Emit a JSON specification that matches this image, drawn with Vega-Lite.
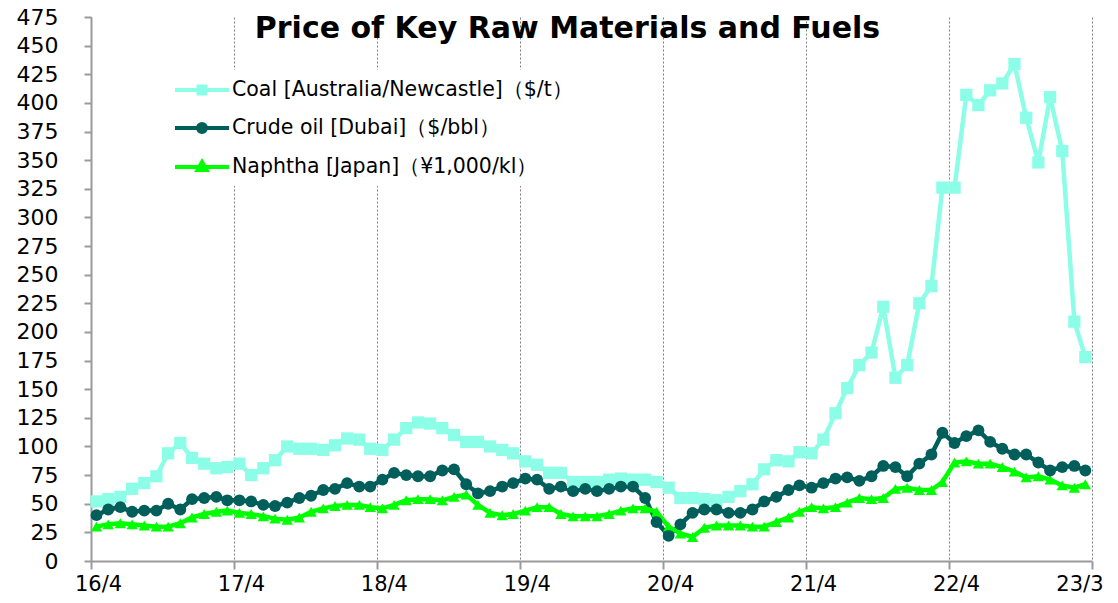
{
  "$schema": "https://vega.github.io/schema/vega-lite/v6.json",
  "width": 1001,
  "height": 544,
  "autosize": "none",
  "padding": {"left": 91, "top": 17, "right": 26, "bottom": 42},
  "background": "white",
  "title": {"text": "Price of Key Raw Materials and Fuels", "font": "DejaVu Sans", "fontSize": 30, "fontWeight": "bold", "color": "black", "anchor": "middle", "frame": "group", "offset": -21, "baseline": "alphabetic", "dx": -24, "dy": 41},
  "data": {"values": [
    {"d": "2016-04-15", "coal": 52, "crude": 40, "naphtha": 30},
    {"d": "2016-05-15", "coal": 54, "crude": 45, "naphtha": 32},
    {"d": "2016-06-15", "coal": 56, "crude": 47, "naphtha": 33},
    {"d": "2016-07-15", "coal": 63, "crude": 43, "naphtha": 32},
    {"d": "2016-08-15", "coal": 68, "crude": 44, "naphtha": 31},
    {"d": "2016-09-15", "coal": 74, "crude": 44, "naphtha": 30},
    {"d": "2016-10-15", "coal": 94, "crude": 50, "naphtha": 30},
    {"d": "2016-11-15", "coal": 103, "crude": 45, "naphtha": 33},
    {"d": "2016-12-15", "coal": 90, "crude": 54, "naphtha": 38},
    {"d": "2017-01-15", "coal": 85, "crude": 55, "naphtha": 41},
    {"d": "2017-02-15", "coal": 81, "crude": 56, "naphtha": 43},
    {"d": "2017-03-15", "coal": 82, "crude": 53, "naphtha": 44},
    {"d": "2017-04-15", "coal": 85, "crude": 53, "naphtha": 42},
    {"d": "2017-05-15", "coal": 75, "crude": 52, "naphtha": 41},
    {"d": "2017-06-15", "coal": 81, "crude": 49, "naphtha": 39},
    {"d": "2017-07-15", "coal": 88, "crude": 48, "naphtha": 37},
    {"d": "2017-08-15", "coal": 100, "crude": 51, "naphtha": 36},
    {"d": "2017-09-15", "coal": 98, "crude": 55, "naphtha": 38},
    {"d": "2017-10-15", "coal": 98, "crude": 57, "naphtha": 43},
    {"d": "2017-11-15", "coal": 97, "crude": 62, "naphtha": 46},
    {"d": "2017-12-15", "coal": 101, "crude": 63, "naphtha": 48},
    {"d": "2018-01-15", "coal": 107, "crude": 68, "naphtha": 49},
    {"d": "2018-02-15", "coal": 106, "crude": 65, "naphtha": 49},
    {"d": "2018-03-15", "coal": 98, "crude": 65, "naphtha": 47},
    {"d": "2018-04-15", "coal": 97, "crude": 71, "naphtha": 46},
    {"d": "2018-05-15", "coal": 106, "crude": 77, "naphtha": 49},
    {"d": "2018-06-15", "coal": 116, "crude": 75, "naphtha": 53},
    {"d": "2018-07-15", "coal": 121, "crude": 74, "naphtha": 54},
    {"d": "2018-08-15", "coal": 120, "crude": 74, "naphtha": 54},
    {"d": "2018-09-15", "coal": 116, "crude": 79, "naphtha": 53},
    {"d": "2018-10-15", "coal": 110, "crude": 80, "naphtha": 56},
    {"d": "2018-11-15", "coal": 104, "crude": 67, "naphtha": 58},
    {"d": "2018-12-15", "coal": 104, "crude": 59, "naphtha": 49},
    {"d": "2019-01-15", "coal": 100, "crude": 61, "naphtha": 42},
    {"d": "2019-02-15", "coal": 97, "crude": 65, "naphtha": 40},
    {"d": "2019-03-15", "coal": 94, "crude": 68, "naphtha": 41},
    {"d": "2019-04-15", "coal": 87, "crude": 72, "naphtha": 44},
    {"d": "2019-05-15", "coal": 84, "crude": 71, "naphtha": 47},
    {"d": "2019-06-15", "coal": 77, "crude": 63, "naphtha": 47},
    {"d": "2019-07-15", "coal": 77, "crude": 65, "naphtha": 41},
    {"d": "2019-08-15", "coal": 69, "crude": 61, "naphtha": 39},
    {"d": "2019-09-15", "coal": 69, "crude": 63, "naphtha": 39},
    {"d": "2019-10-15", "coal": 69, "crude": 61, "naphtha": 39},
    {"d": "2019-11-15", "coal": 71, "crude": 63, "naphtha": 41},
    {"d": "2019-12-15", "coal": 72, "crude": 65, "naphtha": 44},
    {"d": "2020-01-15", "coal": 71, "crude": 65, "naphtha": 46},
    {"d": "2020-02-15", "coal": 71, "crude": 55, "naphtha": 46},
    {"d": "2020-03-15", "coal": 69, "crude": 34, "naphtha": 43},
    {"d": "2020-04-15", "coal": 64, "crude": 22, "naphtha": 30},
    {"d": "2020-05-15", "coal": 55, "crude": 32, "naphtha": 24},
    {"d": "2020-06-15", "coal": 55, "crude": 42, "naphtha": 21},
    {"d": "2020-07-15", "coal": 54, "crude": 45, "naphtha": 29},
    {"d": "2020-08-15", "coal": 53, "crude": 45, "naphtha": 31},
    {"d": "2020-09-15", "coal": 56, "crude": 42, "naphtha": 31},
    {"d": "2020-10-15", "coal": 61, "crude": 42, "naphtha": 31},
    {"d": "2020-11-15", "coal": 67, "crude": 45, "naphtha": 30},
    {"d": "2020-12-15", "coal": 80, "crude": 52, "naphtha": 30},
    {"d": "2021-01-15", "coal": 88, "crude": 56, "naphtha": 34},
    {"d": "2021-02-15", "coal": 87, "crude": 62, "naphtha": 38},
    {"d": "2021-03-15", "coal": 95, "crude": 66, "naphtha": 43},
    {"d": "2021-04-15", "coal": 94, "crude": 64, "naphtha": 47},
    {"d": "2021-05-15", "coal": 106, "crude": 68, "naphtha": 46},
    {"d": "2021-06-15", "coal": 129, "crude": 72, "naphtha": 47},
    {"d": "2021-07-15", "coal": 151, "crude": 73, "naphtha": 51},
    {"d": "2021-08-15", "coal": 171, "crude": 70, "naphtha": 55},
    {"d": "2021-09-15", "coal": 182, "crude": 74, "naphtha": 54},
    {"d": "2021-10-15", "coal": 222, "crude": 83, "naphtha": 55},
    {"d": "2021-11-15", "coal": 160, "crude": 82, "naphtha": 63},
    {"d": "2021-12-15", "coal": 171, "crude": 74, "naphtha": 64},
    {"d": "2022-01-15", "coal": 225, "crude": 85, "naphtha": 62},
    {"d": "2022-02-15", "coal": 240, "crude": 93, "naphtha": 62},
    {"d": "2022-03-15", "coal": 326, "crude": 112, "naphtha": 69},
    {"d": "2022-04-15", "coal": 326, "crude": 103, "naphtha": 86},
    {"d": "2022-05-15", "coal": 407, "crude": 109, "naphtha": 87},
    {"d": "2022-06-15", "coal": 398, "crude": 114, "naphtha": 85},
    {"d": "2022-07-15", "coal": 411, "crude": 104, "naphtha": 85},
    {"d": "2022-08-15", "coal": 417, "crude": 98, "naphtha": 82},
    {"d": "2022-09-15", "coal": 434, "crude": 93, "naphtha": 78},
    {"d": "2022-10-15", "coal": 387, "crude": 93, "naphtha": 73},
    {"d": "2022-11-15", "coal": 348, "crude": 86, "naphtha": 74},
    {"d": "2022-12-15", "coal": 405, "crude": 79, "naphtha": 71},
    {"d": "2023-01-15", "coal": 358, "crude": 82, "naphtha": 66},
    {"d": "2023-02-15", "coal": 209, "crude": 83, "naphtha": 64},
    {"d": "2023-03-15", "coal": 178, "crude": 79, "naphtha": 67}
  ]},
  "transform": [{"fold": ["coal", "crude", "naphtha"], "as": ["series", "value"]}],
  "encoding": {
    "x": {
      "field": "d", "type": "temporal",
      "scale": {"type": "utc", "domain": [{"year": 2016, "month": 4, "date": 1, "utc": true}, {"year": 2023, "month": 4, "date": 1, "utc": true}]},
      "axis": {
        "title": null,
        "values": [
          {"year": 2016, "month": 4, "date": 1, "utc": true},
          {"year": 2017, "month": 4, "date": 1, "utc": true},
          {"year": 2018, "month": 4, "date": 1, "utc": true},
          {"year": 2019, "month": 4, "date": 1, "utc": true},
          {"year": 2020, "month": 4, "date": 1, "utc": true},
          {"year": 2021, "month": 4, "date": 1, "utc": true},
          {"year": 2022, "month": 4, "date": 1, "utc": true},
          {"year": 2023, "month": 4, "date": 1, "utc": true}
        ],
        "labelExpr": "utcyear(datum.value) == 2023 ? '23/3' : (utcyear(datum.value) % 100) + '/4'",
        "grid": true, "gridDash": [2, 2], "gridColor": "#7f7f7f", "gridWidth": 1,
        "domainColor": "#9a9a9a", "domainWidth": 2,
        "tickColor": "#9a9a9a", "tickWidth": 2, "tickSize": 8,
        "labelFont": "DejaVu Sans", "labelFontSize": 21, "labelColor": "black",
        "labelPadding": 4,
        "labelAlign": {"condition": {"test": "utcyear(datum.value) == 2023", "value": "right"}, "value": "center"},
        "labelOffset": {"condition": {"test": "utcyear(datum.value) == 2023", "value": 11}, "value": 7},
        "labelFlush": false, "labelOverlap": false
      }
    },
    "y": {
      "field": "value", "type": "quantitative",
      "scale": {"domain": [0, 475], "nice": false},
      "axis": {
        "title": null,
        "values": [0, 25, 50, 75, 100, 125, 150, 175, 200, 225, 250, 275, 300, 325, 350, 375, 400, 425, 450, 475],
        "grid": false,
        "domainColor": "#9a9a9a", "domainWidth": 2,
        "tickColor": "#9a9a9a", "tickWidth": 2, "tickSize": 7,
        "labelFont": "DejaVu Sans", "labelFontSize": 22, "labelColor": "black",
        "labelPadding": 26, "labelOverlap": false, "labelFlush": false
      }
    },
    "color": {
      "field": "series", "type": "nominal",
      "scale": {"domain": ["coal", "crude", "naphtha"], "range": ["#8CFDE7", "#005F5B", "#00FF00"]},
      "legend": {
        "orient": "none", "legendX": 91, "legendY": 53,
        "title": null, "direction": "vertical",
        "labelExpr": "datum.value == 'coal' ? 'Coal [Australia/Newcastle]（$/t）' : datum.value == 'crude' ? 'Crude oil [Dubai]（$/bbl）' : 'Naphtha [Japan]（¥1,000/kl）'",
        "labelFont": "DejaVu Sans", "labelFontSize": 20.5, "labelColor": "black", "labelLimit": 700,
        "labelOffset": 18,
        "symbolSize": 400, "symbolStrokeWidth": 4,
        "rowPadding": 14,
        "fillColor": "white", "padding": 8,
        "encode": {
          "symbols": {
            "update": {
              "shape": {"signal": "datum.value == 'coal' ? 'M-2.7,0H2.7M-0.35,-0.35H0.35V0.35H-0.35Z' : datum.value == 'crude' ? 'M-2.7,0H2.7M-0.4,0A0.4,0.4 0 1,0 0.4,0A0.4,0.4 0 1,0 -0.4,0Z' : 'M-2.7,0H2.7M0,-0.5L0.45,0.3H-0.45Z'"},
              "fill": {"scale": "color", "field": "value"},
              "stroke": {"scale": "color", "field": "value"},
              "strokeWidth": {"value": 4},
              "size": {"value": 400},
              "opacity": {"value": 1}
            }
          }
        }
      }
    }
  },
  "layer": [
    {"mark": {"type": "line", "strokeWidth": 4.5}},
    {
      "transform": [{"filter": "datum.series == 'coal'"}],
      "mark": {"type": "point", "shape": "square", "filled": true, "opacity": 1, "size": 150}
    },
    {
      "transform": [{"filter": "datum.series == 'naphtha'"}],
      "mark": {"type": "point", "shape": "triangle-up", "filled": true, "opacity": 1, "size": 130}
    },
    {
      "transform": [{"filter": "datum.series == 'crude'"}],
      "mark": {"type": "point", "shape": "circle", "filled": true, "opacity": 1, "size": 140}
    }
  ],
  "config": {"view": {"stroke": null}}
}
